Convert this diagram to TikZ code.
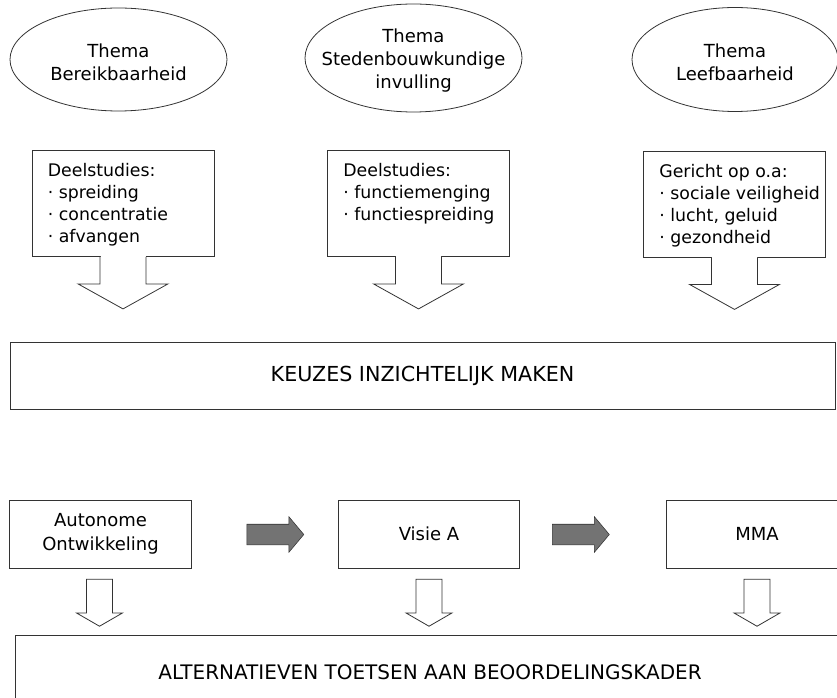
\documentclass[tikz,border=0pt]{standalone}
\usepackage{fontspec}
\setmainfont{DejaVu Sans}
\usetikzlibrary{shapes.geometric,shapes.arrows,calc}

\begin{document}
\begin{tikzpicture}[x=0.75pt,y=-0.75pt]
    \tikzstyle{thinline}=[draw=black!80, line width=0.6pt];
    \tikzstyle{thema}=[thinline, ellipse, fill=white, inner sep=0];
    \tikzstyle{themetext}=[align=center, inner sep=0, yshift=-2pt, font=\fontsize{13.5}{17.5}\selectfont];
    \tikzstyle{callbox}=[thinline, rectangle, fill=white, minimum width=136.5pt, minimum height=79.5pt];
    \tikzstyle{calltext}=[anchor=north west, inner xsep=12pt, inner ysep=10pt, align=left, font=\fontsize{13}{16.5}\selectfont];
    \tikzstyle{widebox}=[thinline, rectangle, font=\fontsize{15}{18}\selectfont];
    \tikzstyle{altbox}=[thinline, rectangle, align=center, minimum width=136pt, minimum height=51pt, font=\fontsize{13.5}{18}\selectfont];
    \tikzstyle{shadearrow}=[single arrow, draw=black!80, fill=black!55, inner sep=7.5pt, minimum height=42.75pt, single arrow head extend=5.6pt, single arrow tip angle=100];
    \tikzstyle{downarrow}=[single arrow, thinline, fill=white, shape border rotate=270, inner sep=9.4pt, minimum height=35.25pt, single arrow head extend=7.5pt, single arrow tip angle=120];

    \path[use as bounding box, fill=white] (0,0) rectangle (837,698);

    % themes
    \node[thema, minimum width=162.75pt, minimum height=77.25pt, label={[themetext]center:Thema\\Bereikbaarheid}] at (118.5,59.5) (th1) {};
    \node[thema, minimum width=162.75pt, minimum height=81pt, label={[themetext]center:Thema\\Stedenbouwkundige\\invulling}] at (413.5,58) (th2) {};
    \node[thema, minimum width=154.5pt, minimum height=78pt, label={[themetext]center:Thema\\Leefbaarheid}] at (735,59.5) (th3) {};

    \node[callbox, label={[calltext]north west:Deelstudies:\\· spreiding\\· concentratie\\· afvangen}] at (123,203.5) (bx1) {};
    \node[callbox, label={[calltext]north west:Deelstudies:\\· functiemenging\\· functiespreiding}] at (418.5,203.5) (bx2) {};
    \node[callbox, label={[calltext]north west:Gericht op o.a:\\· sociale veiligheid\\· lucht, geluid\\· gezondheid}] at (734.5,204) (bx3) {};

    \node[widebox, font=\fontsize{15.5}{18}\selectfont, minimum width=618.75pt, minimum height=50.25pt] at (422.5,375.5) (keuzes) {KEUZES INZICHTELIJK MAKEN};

    % alternatives
    \node[altbox] at (100.5,534) (aut) {Autonome\\Ontwikkeling};
    \node[altbox] at (429,534) (vis) {Visie A};
    \node[altbox] at (757,534) (mma) {MMA};
    \node[shadearrow] at (271,534.5) (ar1) {};
    \node[shadearrow] at (576.5,534.5) (ar2) {};
    \node[downarrow] at (99.5,599) (da1) {};
    \node[downarrow] at (429,599) (da2) {};
    \node[downarrow] at (757,599) (da3) {};

    \node[widebox, minimum width=622.5pt, minimum height=55.5pt] at (430,672) (toets) {ALTERNATIEVEN TOETSEN AAN BEOORDELINGSKADER};

    \fill[white] ($(bx1.south)+(-22.5,-1)$) rectangle ($(bx1.south)+(22.5,1)$);
    \draw[thinline, fill=white] ($(bx1.south)+(-23,0)$) -- ++(0,27) -- ++(-22,0) -- ($(bx1.south)+(0,52)$)
          -- ++(45,-25) -- ++(-22,0) -- ++(0,-27);
    \fill[white] ($(bx2.south)+(-22.5,-1)$) rectangle ($(bx2.south)+(22.5,1)$);
    \draw[thinline, fill=white] ($(bx2.south)+(-23,0)$) -- ++(0,27) -- ++(-22,0) -- ($(bx2.south)+(0,52)$)
          -- ++(45,-25) -- ++(-22,0) -- ++(0,-27);
    \fill[white] ($(bx3.south)+(-22.5,-1)$) rectangle ($(bx3.south)+(22.5,1)$);
    \draw[thinline, fill=white] ($(bx3.south)+(-23,0)$) -- ++(0,27) -- ++(-22,0) -- ($(bx3.south)+(0,52)$)
          -- ++(45,-25) -- ++(-22,0) -- ++(0,-27);
\end{tikzpicture}
\end{document}
